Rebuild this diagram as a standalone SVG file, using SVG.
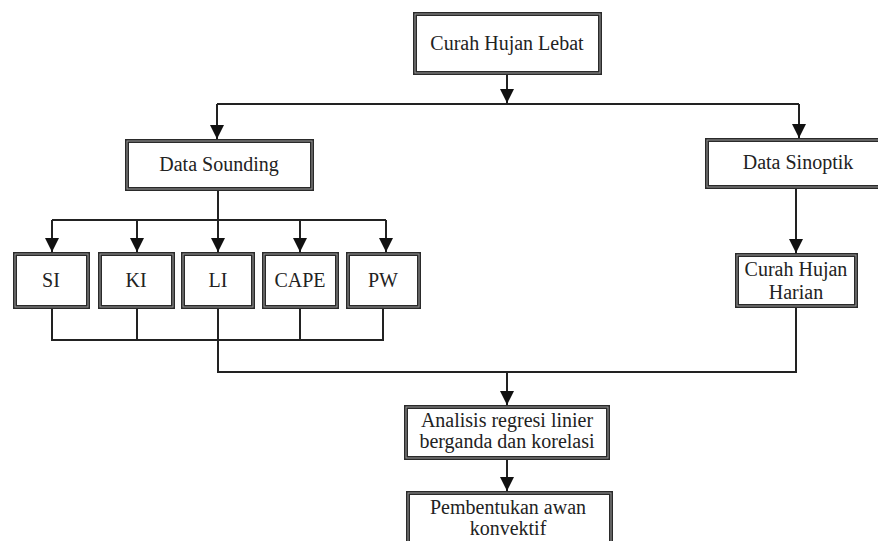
<svg xmlns="http://www.w3.org/2000/svg" width="878" height="541" viewBox="0 0 878 541">
<style>
.box{fill:#fff;stroke:#2a2a2a;stroke-width:4}
.inner{fill:none;stroke:#9a9a9a;stroke-width:1}
.lbl{font-family:'Liberation Serif','Times New Roman',serif;font-size:20px;fill:#222;text-anchor:middle}
.ln{fill:none;stroke:#222;stroke-width:2}
</style>
<defs>
<marker id="ah" markerUnits="userSpaceOnUse" markerWidth="14" markerHeight="14" viewBox="0 0 14 14" refX="14" refY="7" orient="auto">
<path d="M0,0 L14,7 L0,14 Z" fill="#111"/>
</marker>
</defs>
<rect width="878" height="541" fill="#fff"/>
<g id="connectors">
<path class="ln" d="M507,73 V103" marker-end="url(#ah)"/>
<path class="ln" d="M217,104 H799"/>
<path class="ln" d="M217,104 V139" marker-end="url(#ah)"/>
<path class="ln" d="M799,104 V138" marker-end="url(#ah)"/>
<path class="ln" d="M218,189 V220"/>
<path class="ln" d="M52,220 H386"/>
<path class="ln" d="M52,220 V252" marker-end="url(#ah)"/>
<path class="ln" d="M137,220 V252" marker-end="url(#ah)"/>
<path class="ln" d="M218,220 V252" marker-end="url(#ah)"/>
<path class="ln" d="M300,220 V252" marker-end="url(#ah)"/>
<path class="ln" d="M386,220 V252" marker-end="url(#ah)"/>
<path class="ln" d="M796,187 V253" marker-end="url(#ah)"/>
<path class="ln" d="M52,307 V340 H383 V307 M137,307 V340 M300,307 V340"/>
<path class="ln" d="M218,307 V372 H796 V306"/>
<path class="ln" d="M507,372 V405" marker-end="url(#ah)"/>
<path class="ln" d="M507,458 V491" marker-end="url(#ah)"/>
</g>
<g id="curah-hujan-lebat">
<rect class="box" x="415" y="14" width="185" height="59"/><rect class="inner" x="415" y="14" width="185" height="59"/>
<text class="lbl" x="507" y="50">Curah Hujan Lebat</text>
</g>
<g id="data-sounding">
<rect class="box" x="127" y="141" width="185" height="48"/><rect class="inner" x="127" y="141" width="185" height="48"/>
<text class="lbl" x="219" y="171">Data Sounding</text>
</g>
<g id="data-sinoptik">
<rect class="box" x="707" y="140" width="190" height="47"/><rect class="inner" x="707" y="140" width="190" height="47"/>
<text class="lbl" x="798" y="169">Data Sinoptik</text>
</g>
<g id="si">
<rect class="box" x="15" y="254" width="73" height="53"/><rect class="inner" x="15" y="254" width="73" height="53"/>
<text class="lbl" x="51" y="287">SI</text>
</g>
<g id="ki">
<rect class="box" x="100" y="254" width="73" height="53"/><rect class="inner" x="100" y="254" width="73" height="53"/>
<text class="lbl" x="136" y="287">KI</text>
</g>
<g id="li">
<rect class="box" x="183" y="254" width="70" height="53"/><rect class="inner" x="183" y="254" width="70" height="53"/>
<text class="lbl" x="218" y="287">LI</text>
</g>
<g id="cape">
<rect class="box" x="264" y="254" width="73" height="53"/><rect class="inner" x="264" y="254" width="73" height="53"/>
<text class="lbl" x="300" y="287">CAPE</text>
</g>
<g id="pw">
<rect class="box" x="348" y="254" width="71" height="53"/><rect class="inner" x="348" y="254" width="71" height="53"/>
<text class="lbl" x="383" y="287">PW</text>
</g>
<g id="curah-hujan-harian">
<rect class="box" x="737" y="255" width="119" height="51"/><rect class="inner" x="737" y="255" width="119" height="51"/>
<text class="lbl" x="796" y="276">Curah Hujan</text>
<text class="lbl" x="796" y="299">Harian</text>
</g>
<g id="analisis">
<rect class="box" x="406" y="407" width="202" height="51"/><rect class="inner" x="406" y="407" width="202" height="51"/>
<text class="lbl" x="507" y="427">Analisis regresi linier</text>
<text class="lbl" x="507" y="448">berganda dan korelasi</text>
</g>
<g id="pembentukan">
<rect class="box" x="408" y="493" width="203" height="70"/><rect class="inner" x="408" y="493" width="203" height="70"/>
<text class="lbl" x="508" y="514">Pembentukan awan</text>
<text class="lbl" x="508" y="535">konvektif</text>
</g>
</svg>
